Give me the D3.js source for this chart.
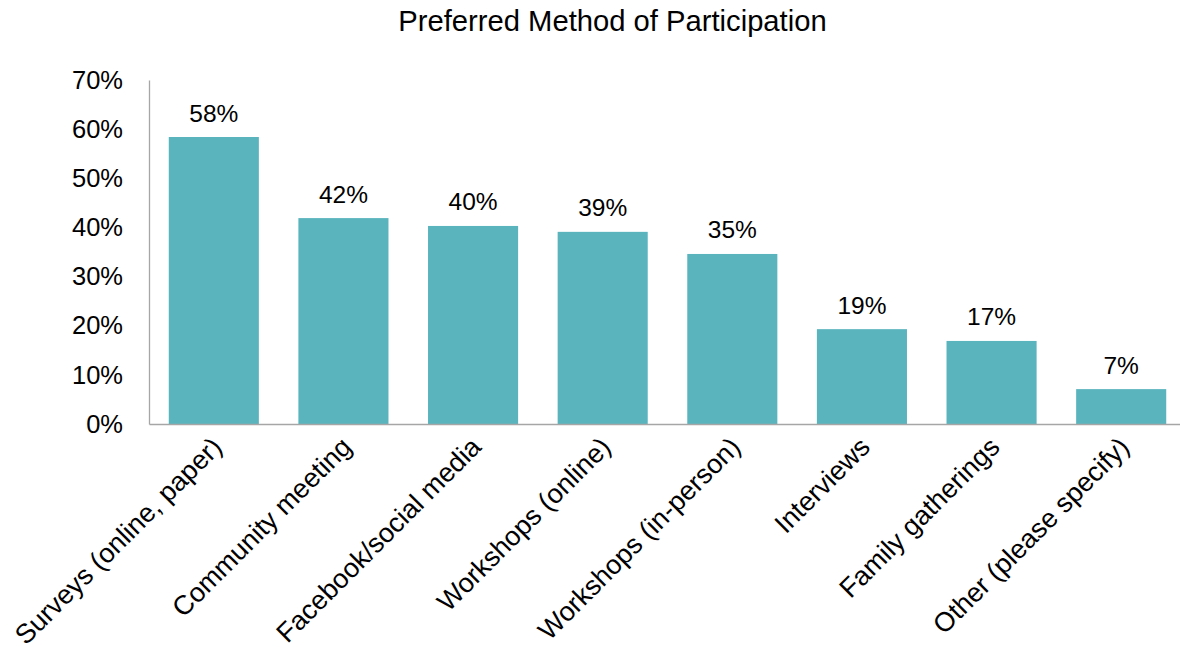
<!DOCTYPE html>
<html>
<head>
<meta charset="utf-8">
<script src="https://cdn.jsdelivr.net/npm/d3@7"></script>
<style>
  html, body { margin: 0; padding: 0; background: #fff; }
  svg { display: block; font-family: "Liberation Sans", Arial, sans-serif; }
</style>
</head>
<body>
<svg id="chart" width="1180" height="652"></svg>
<script>
const categories = ["Surveys (online, paper)", "Community meeting", "Facebook/social media", "Workshops (online)", "Workshops (in-person)", "Interviews", "Family gatherings", "Other (please specify)"];
const values = [0.584, 0.419, 0.403, 0.391, 0.346, 0.193, 0.169, 0.071];
const valueLabels = ["58%", "42%", "40%", "39%", "35%", "19%", "17%", "7%"];
const yTicks = [0, 0.1, 0.2, 0.3, 0.4, 0.5, 0.6, 0.7];
const chartTitle = "Preferred Method of Participation";

(function () {
const svg = d3.select("#chart");
const mLeft = 149, mRight = 1186, mTop = 80, mBottom = 424;
const FONT = "Liberation Sans, Arial, sans-serif";

const x = d3.scaleBand().domain(categories).range([mLeft, mRight]).paddingInner(0.305).paddingOuter(0.1525);
const y = d3.scaleLinear().domain([0, 0.7]).range([mBottom, mTop]);

svg.append("text").attr("x", 612.5).attr("y", 31).attr("text-anchor", "middle")
  .attr("font-size", 29.2).attr("fill", "#000").text(chartTitle);

svg.append("g").selectAll("rect").data(values).join("rect")
  .attr("x", (d, i) => x(categories[i]))
  .attr("width", x.bandwidth())
  .attr("y", d => y(d))
  .attr("height", d => mBottom - y(d))
  .attr("fill", "#5AB4BE");

svg.append("g").selectAll("text").data(values).join("text")
  .attr("x", (d, i) => x(categories[i]) + x.bandwidth() / 2)
  .attr("y", d => y(d) - 15.5)
  .attr("text-anchor", "middle").attr("font-size", 24.5).attr("fill", "#000")
  .text((d, i) => valueLabels[i]);

const yAxis = d3.axisLeft(y).tickValues(yTicks).tickFormat(d3.format(".0%")).tickSize(0).tickPadding(26);
const gy = svg.append("g").attr("transform", `translate(${mLeft},0)`).call(yAxis);
gy.select(".domain").attr("stroke", "#a6a6a6").attr("stroke-width", 1.3);
gy.selectAll("text").attr("font-size", 25.5).attr("fill", "#000").attr("font-family", FONT);

const xAxis = d3.axisBottom(x).tickSize(0).tickPadding(0);
const gx = svg.append("g").attr("transform", `translate(0,${mBottom})`).call(xAxis);
gx.select(".domain").attr("stroke", "#a6a6a6").attr("stroke-width", 1.3);
gx.selectAll("text")
  .attr("font-size", 27).attr("fill", "#000").attr("font-family", FONT)
  .attr("text-anchor", "end")
  .attr("dy", "0.35em")
  .attr("transform", "translate(3,18) rotate(-45)");
})();
</script>
</body>
</html>
